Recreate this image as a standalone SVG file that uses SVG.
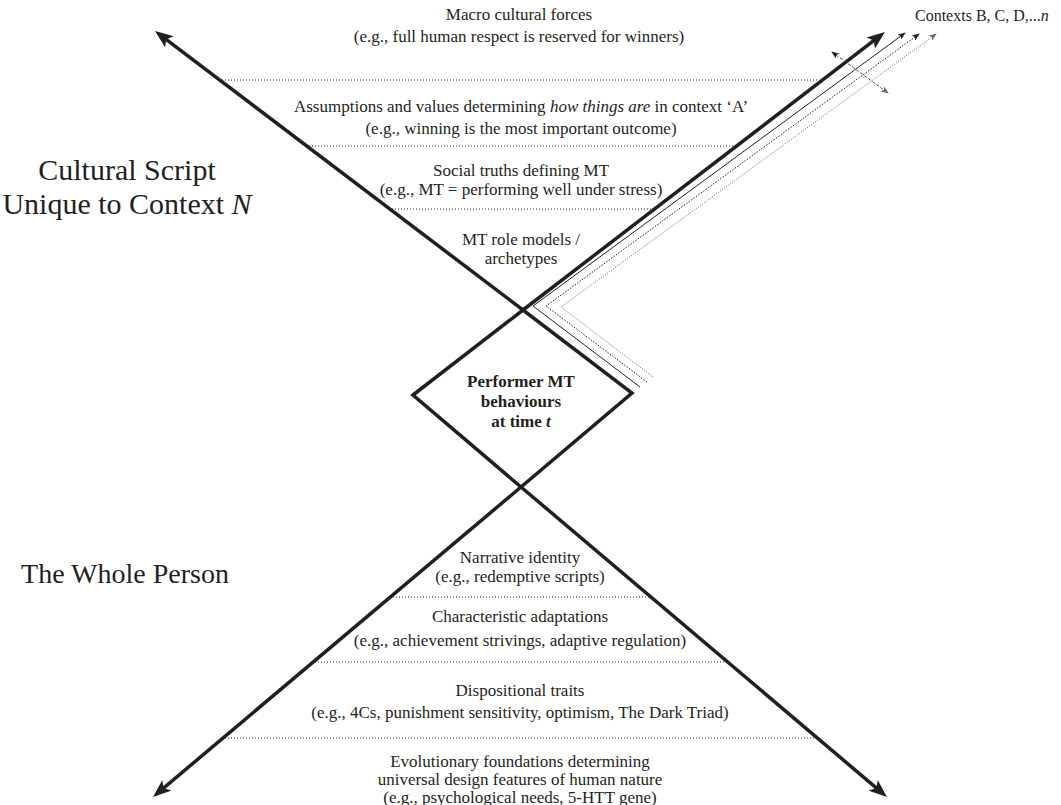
<svg xmlns="http://www.w3.org/2000/svg" width="1061" height="805" viewBox="0 0 1061 805">
<style>
  .t { font-family: "Liberation Serif", "Times New Roman", serif; font-size: 17px; fill: #231f20; text-anchor: middle; }
  .big { font-family: "Liberation Serif", "Times New Roman", serif; font-size: 28px; fill: #231f20; text-anchor: middle; }
  .cs { font-size: 30px; }
  .ctx { font-family: "Liberation Serif", "Times New Roman", serif; font-size: 16px; fill: #231f20; }
  .b { font-weight: bold; }
  .thick { stroke: #231f20; stroke-width: 3.5; fill: none; }
  .dot { stroke: #231f20; stroke-width: 1; stroke-dasharray: 1 2; fill: none; }
</style>
<defs>
  <marker id="bigArrow" markerUnits="userSpaceOnUse" viewBox="0 0 18 14" markerWidth="18" markerHeight="14" refX="12" refY="7" orient="auto">
    <path d="M0,0 L18,7 L0,14 L4,7 Z" fill="#231f20"/>
  </marker>
  <marker id="smallBlack" markerUnits="userSpaceOnUse" viewBox="0 0 8 6" markerWidth="8" markerHeight="6" refX="7" refY="3" orient="auto-start-reverse">
    <path d="M0,0 L8,3 L0,6 L2,3 Z" fill="#231f20"/>
  </marker>
  <marker id="smallGrey" markerUnits="userSpaceOnUse" viewBox="0 0 8 6" markerWidth="8" markerHeight="6" refX="7" refY="3" orient="auto-start-reverse">
    <path d="M0,0 L8,3 L0,6 L2,3 Z" fill="#666"/>
  </marker>
</defs>
<rect width="1061" height="805" fill="#fff"/>

<g id="connectors">
  <line class="thick" x1="523" y1="310" x2="159.8" y2="34.6" marker-end="url(#bigArrow)"/>
  <line class="thick" x1="523" y1="310" x2="880.2" y2="35.7" marker-end="url(#bigArrow)"/>
  <line class="thick" x1="521" y1="487" x2="157.6" y2="793.1" marker-end="url(#bigArrow)"/>
  <line class="thick" x1="521" y1="487" x2="882.4" y2="793.1" marker-end="url(#bigArrow)"/>
  <polyline points="640,387 533,306 905,33" fill="none" stroke="#231f20" stroke-width="1" marker-end="url(#smallBlack)"/>
  <polyline points="647,382 546,306 919,34" fill="none" stroke="#231f20" stroke-width="1" stroke-dasharray="1.5 1.5" marker-end="url(#smallBlack)"/>
  <polyline points="653,377 561,307 936,34" fill="none" stroke="#666" stroke-width="1" stroke-dasharray="1 1.5" marker-end="url(#smallGrey)"/>
  <line x1="832" y1="52" x2="888" y2="93" stroke="#444" stroke-width="1" stroke-dasharray="3 2" marker-start="url(#smallBlack)" marker-end="url(#smallGrey)"/>
</g>

<g id="dividers">
  <line class="dot" x1="222" y1="80" x2="818" y2="80"/>
  <line class="dot" x1="306" y1="146" x2="738" y2="146"/>
  <line class="dot" x1="392" y1="209" x2="653" y2="209"/>
  <line class="dot" x1="393" y1="597" x2="650" y2="597"/>
  <line class="dot" x1="315" y1="662" x2="728" y2="662"/>
  <line class="dot" x1="225" y1="738" x2="818" y2="738"/>
</g>

<g id="node-performer">
  <polygon points="413,395 523,310 632,393 521,487" class="thick" stroke-linejoin="miter"/>
  <text class="t b" x="521" y="387">Performer MT</text>
  <text class="t b" x="521" y="407">behaviours</text>
  <text class="t b" x="521" y="427">at time <tspan font-style="italic">t</tspan></text>
</g>

<g id="label-cultural-script">
  <text class="big cs" x="127" y="180">Cultural Script</text>
  <text class="big cs" x="127" y="214">Unique to Context <tspan font-style="italic">N</tspan></text>
</g>

<g id="label-whole-person">
  <text class="big" x="125" y="583">The Whole Person</text>
</g>

<g id="label-contexts">
  <text class="ctx" x="915" y="21">Contexts B, C, D,...<tspan font-style="italic">n</tspan></text>
</g>

<g id="layer-macro">
  <text class="t" x="519" y="20">Macro cultural forces</text>
  <text class="t" x="519" y="42">(e.g., full human respect is reserved for winners)</text>
</g>
<g id="layer-assumptions">
  <text class="t" x="521" y="112">Assumptions and values determining <tspan font-style="italic">how things are</tspan> in context ‘A’</text>
  <text class="t" x="521" y="134">(e.g., winning is the most important outcome)</text>
</g>
<g id="layer-social-truths">
  <text class="t" x="521" y="176">Social truths defining MT</text>
  <text class="t" x="521" y="195">(e.g., MT = performing well under stress)</text>
</g>
<g id="layer-role-models">
  <text class="t" x="521" y="245">MT role models /</text>
  <text class="t" x="521" y="264">archetypes</text>
</g>

<g id="layer-narrative">
  <text class="t" x="520" y="563">Narrative identity</text>
  <text class="t" x="520" y="582">(e.g., redemptive scripts)</text>
</g>
<g id="layer-characteristic">
  <text class="t" x="520" y="622">Characteristic adaptations</text>
  <text class="t" x="520" y="646">(e.g., achievement strivings, adaptive regulation)</text>
</g>
<g id="layer-dispositional">
  <text class="t" x="520" y="696">Dispositional traits</text>
  <text class="t" x="520" y="718">(e.g., 4Cs, punishment sensitivity, optimism, The Dark Triad)</text>
</g>
<g id="layer-evolutionary">
  <text class="t" x="520" y="767">Evolutionary foundations determining</text>
  <text class="t" x="520" y="785">universal design features of human nature</text>
  <text class="t" x="520" y="803">(e.g., psychological needs, 5-HTT gene)</text>
</g>
</svg>
